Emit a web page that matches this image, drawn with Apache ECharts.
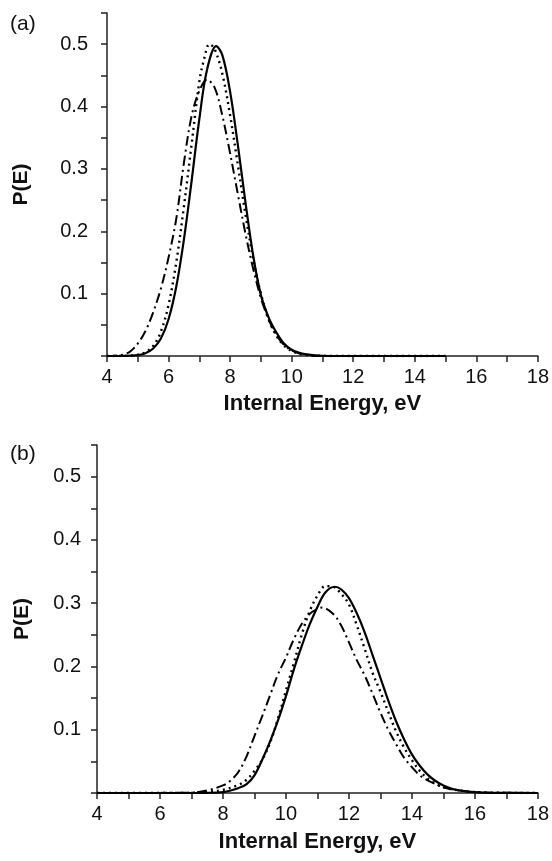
<!DOCTYPE html>
<html>
<head>
<meta charset="utf-8">
<script src="https://cdn.jsdelivr.net/npm/echarts@6/dist/echarts.min.js"></script>
<style>
html,body{margin:0;padding:0;background:#fff;}
#chart{width:552px;height:861px;}
</style>
</head>
<body>
<div id="chart"></div>
<script>
// Tick label values
const xLabelValues = [4, 6, 8, 10, 12, 14, 16, 18];
const yLabelValues = [0.1, 0.2, 0.3, 0.4, 0.5];

// Panel (a) curves: [energy eV, P(E)]
const aSolid = [[4,0],[4.5,0.0001],[4.75,0.0005],[5,0.0015],[5.25,0.0045],[5.5,0.012],[5.75,0.028],[6,0.059],[6.25,0.111],[6.5,0.187],[6.75,0.281],[7,0.380],[7.25,0.459],[7.55,0.497],[7.75,0.482],[8,0.424],[8.25,0.339],[8.5,0.246],[8.75,0.161],[9,0.098],[9.25,0.062],[9.5,0.038],[9.75,0.020],[10,0.010],[10.25,0.005],[10.5,0.0025],[10.75,0.001],[11,0.0004],[11.5,0],[15,0]];
const aDotted = [[4,0],[4.5,0.0001],[4.75,0.0006],[5,0.002],[5.25,0.006],[5.5,0.016],[5.75,0.039],[6,0.082],[6.25,0.150],[6.5,0.240],[6.75,0.340],[7,0.440],[7.15,0.475],[7.33,0.500],[7.5,0.492],[7.75,0.452],[8,0.386],[8.25,0.307],[8.5,0.227],[8.75,0.156],[9,0.100],[9.25,0.059],[9.5,0.033],[9.75,0.017],[10,0.008],[10.25,0.0036],[10.5,0.0015],[10.75,0.0006],[11,0.0002],[11.5,0],[15,0]];
const aDashDot = [[4,0],[4.25,0.0005],[4.5,0.002],[4.75,0.007],[5,0.02],[5.25,0.04],[5.5,0.07],[5.75,0.108],[6,0.158],[6.25,0.22],[6.5,0.31],[6.75,0.385],[7,0.425],[7.25,0.443],[7.5,0.43],[7.75,0.385],[8,0.325],[8.25,0.26],[8.5,0.196],[8.75,0.14],[9,0.093],[9.25,0.059],[9.5,0.034],[9.75,0.018],[10,0.009],[10.25,0.004],[10.5,0.0015],[10.75,0.0005],[11,0],[15,0]];

// Panel (b) curves
const bSolid = [[4,0],[7,0],[7.5,0.0003],[8,0.0015],[8.25,0.004],[8.5,0.008],[8.75,0.014],[9,0.028],[9.25,0.053],[9.5,0.082],[9.75,0.115],[10,0.153],[10.25,0.195],[10.5,0.232],[10.75,0.266],[11,0.294],[11.25,0.317],[11.55,0.326],[11.75,0.322],[12,0.308],[12.25,0.284],[12.5,0.254],[12.75,0.218],[13,0.182],[13.25,0.146],[13.5,0.113],[13.75,0.085],[14,0.061],[14.25,0.043],[14.5,0.029],[14.75,0.019],[15,0.012],[15.25,0.0072],[15.5,0.0042],[15.75,0.0024],[16,0.0013],[16.5,0.0003],[17,0.0001],[18,0]];
const bDotted = [[4,0],[7,0.0003],[7.5,0.002],[8,0.005],[8.5,0.013],[8.75,0.021],[9,0.035],[9.25,0.053],[9.5,0.08],[9.75,0.118],[10,0.162],[10.25,0.205],[10.5,0.25],[10.75,0.287],[11,0.312],[11.25,0.327],[11.5,0.326],[11.75,0.315],[12,0.298],[12.25,0.265],[12.5,0.228],[12.75,0.19],[13,0.16],[13.25,0.128],[13.5,0.097],[13.75,0.072],[14,0.052],[14.25,0.035],[14.5,0.023],[14.75,0.015],[15,0.009],[15.5,0.004],[16,0.0015],[16.5,0.0005],[18,0]];
const bDashDot = [[4,0],[7,0.0005],[7.5,0.004],[8,0.012],[8.25,0.02],[8.5,0.034],[8.75,0.058],[9,0.09],[9.25,0.122],[9.5,0.155],[9.75,0.188],[10,0.214],[10.25,0.243],[10.5,0.267],[10.75,0.283],[11,0.291],[11.15,0.293],[11.5,0.283],[11.75,0.265],[12,0.238],[12.25,0.21],[12.5,0.186],[12.75,0.157],[13,0.127],[13.25,0.1],[13.5,0.077],[13.75,0.056],[14,0.041],[14.25,0.028],[14.5,0.02],[14.75,0.014],[15,0.009],[15.5,0.004],[16,0.0015],[16.5,0.0005],[18,0]];

const FONT = "'Liberation Sans', Arial, sans-serif";
const INK = '#111';

function xAxisCfg(gridIndex, nameGap) {
  return {
    type: 'value', gridIndex, min: 4, max: 18, interval: 1,
    name: 'Internal Energy, eV', nameLocation: 'middle', nameGap,
    nameTextStyle: { fontFamily: FONT, fontSize: 22, fontWeight: 'bold', color: INK },
    axisLine: { show: true, lineStyle: { color: '#222', width: 1.5 } },
    axisTick: { show: true, inside: false, length: 6, lineStyle: { color: '#222', width: 1.5 } },
    axisLabel: {
      margin: 11, fontFamily: FONT, fontSize: 20, color: INK,
      formatter: v => xLabelValues.some(t => Math.abs(t - v) < 1e-6) ? String(Math.round(v)) : ''
    },
    splitLine: { show: false }
  };
}
function yAxisCfg(gridIndex, nameGap, labelMargin) {
  return {
    type: 'value', gridIndex, min: 0, max: 0.55, interval: 0.05,
    name: 'P(E)', nameLocation: 'middle', nameGap, nameRotate: 90,
    nameTextStyle: { fontFamily: FONT, fontSize: 21, fontWeight: 'bold', color: INK },
    axisLine: { show: true, lineStyle: { color: '#222', width: 1.5 } },
    axisTick: { show: true, inside: false, length: 6, lineStyle: { color: '#222', width: 1.5 } },
    axisLabel: {
      margin: labelMargin, fontFamily: FONT, fontSize: 20, color: INK,
      formatter: v => {
        const hit = yLabelValues.find(t => Math.abs(t - v) < 1e-6);
        return hit !== undefined ? hit.toFixed(1) : '';
      }
    },
    splitLine: { show: false }
  };
}

function lineSeries(data, idx, style) {
  return {
    type: 'line', data, xAxisIndex: idx, yAxisIndex: idx,
    showSymbol: false, smooth: 0.35, silent: true,
    lineStyle: Object.assign({ color: '#000', width: 2 }, style),
    z: style.z || 2
  };
}

const solidStyle = { type: 'solid', width: 2.2, z: 4 };
const dottedStyle = { type: [2, 4], width: 2.4, z: 3 };
const dashDotStyle = { type: [10, 4, 2, 4], width: 2, z: 2 };

const chart = echarts.init(document.getElementById('chart'), null, { renderer: 'canvas' });
chart.setOption({
  animation: false,
  backgroundColor: '#fff',
  title: [
    { text: '(a)', left: 10, top: 14, padding: 0, textStyle: { fontFamily: FONT, fontSize: 21, fontWeight: 'normal', color: INK } },
    { text: '(b)', left: 10, top: 444, padding: 0, textStyle: { fontFamily: FONT, fontSize: 21, fontWeight: 'normal', color: INK } }
  ],
  grid: [
    { left: 107, top: 13, width: 433, height: 343, containLabel: false },
    { left: 97, top: 445, width: 443, height: 348, containLabel: false }
  ],
  xAxis: [xAxisCfg(0, 37), xAxisCfg(1, 38)],
  yAxis: [yAxisCfg(0, 75, 19), yAxisCfg(1, 64, 16)],
  series: [
    lineSeries(aDashDot, 0, dashDotStyle),
    lineSeries(aDotted, 0, dottedStyle),
    lineSeries(aSolid, 0, solidStyle),
    lineSeries(bDashDot, 1, dashDotStyle),
    lineSeries(bDotted, 1, dottedStyle),
    lineSeries(bSolid, 1, solidStyle)
  ]
});
</script>
</body>
</html>
